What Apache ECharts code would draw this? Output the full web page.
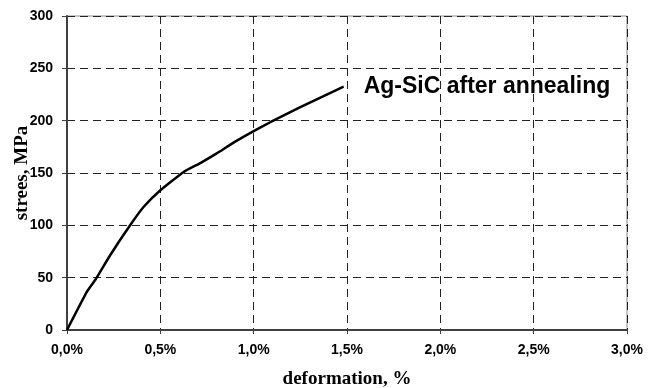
<!DOCTYPE html>
<html>
<head>
<meta charset="utf-8">
<script src="https://cdn.jsdelivr.net/npm/echarts@6/dist/echarts.min.js"></script>
<style>
html,body{margin:0;padding:0;background:#fff;}
#c{width:660px;height:388px;}
</style>
</head>
<body>
<div id="c"></div>
<script>
var strain = [0, 0.107, 0.152, 0.232, 0.339, 0.41, 0.496, 0.625, 0.714, 0.8, 0.892, 1.0, 1.089, 1.25, 1.482];
var stress = [0, 36.6, 48, 71.7, 100.3, 117.5, 132.8, 151, 159.5, 168.5, 179, 190, 198.5, 213, 232.5];
var seriesName = 'Ag-SiC after annealing';
var xTitle = 'deformation, %';
var yTitle = 'strees, MPa';

var data = strain.map(function (x, i) { return [x, stress[i]]; });

var chart = echarts.init(document.getElementById('c'), null, {renderer: 'canvas'});
chart.setOption({
  animation: false,
  backgroundColor: '#fff',
  grid: {left: 67, right: 33, top: 16, bottom: 58, containLabel: false, outerBoundsMode: 'none',
    show: true, borderColor: '#8c8c8c', borderWidth: 1, backgroundColor: 'transparent'},
  xAxis: {
    type: 'value', min: 0, max: 3, interval: 0.5,
    name: xTitle, nameLocation: 'middle', nameGap: 40,
    nameTextStyle: {fontFamily: 'Liberation Serif', fontWeight: 'bold', fontSize: 19, color: '#000'},
    axisLine: {show: true, onZero: false, lineStyle: {color: '#404040', width: 2}},
    axisTick: {show: true, inside: false, length: 4, lineStyle: {color: '#404040', width: 1}},
    axisLabel: {margin: 13, fontFamily: 'Liberation Sans', fontWeight: 'bold', fontSize: 14, color: '#000',
      formatter: function (v) { return v.toFixed(1).replace('.', ',') + '%'; }},
    splitLine: {show: true, lineStyle: {color: '#222', width: 1, type: [8, 5]}}
  },
  yAxis: {
    type: 'value', min: 0, max: 300, interval: 50,
    name: yTitle, nameLocation: 'middle', nameGap: 35, nameRotate: 90, nameMoveOverlap: false,
    nameTextStyle: {fontFamily: 'Liberation Serif', fontWeight: 'bold', fontSize: 19, color: '#000'},
    axisLine: {show: true, onZero: false, lineStyle: {color: '#404040', width: 2}},
    axisTick: {show: true, inside: false, length: 5, lineStyle: {color: '#404040', width: 1}},
    axisLabel: {margin: 14, fontFamily: 'Liberation Sans', fontWeight: 'bold', fontSize: 14, color: '#000'},
    splitLine: {show: true, lineStyle: {color: '#222', width: 1, type: [8, 5]}}
  },
  series: [{
    type: 'line', name: seriesName, data: data,
    smooth: 0.15, showSymbol: false, symbol: 'none',
    lineStyle: {color: '#000', width: 2.5},
    endLabel: {show: true, formatter: seriesName, distance: 20,
      fontFamily: 'Liberation Sans', fontWeight: 'bold', fontSize: 23, color: '#000'}
  }]
});
</script>
</body>
</html>
